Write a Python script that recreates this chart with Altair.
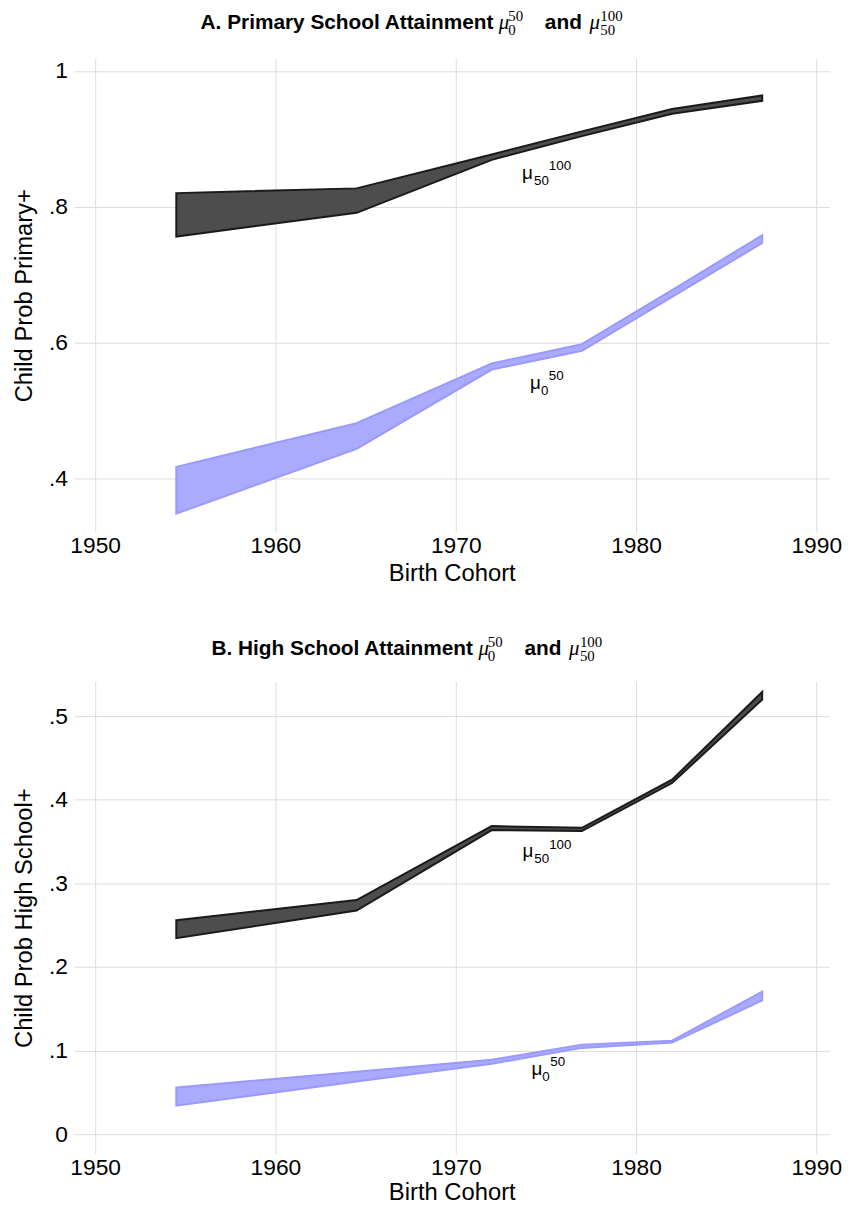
import altair as alt
import pandas as pd

# ---------------- data ----------------
years = [1954.5, 1964.5, 1972, 1977, 1982, 1987]

# Panel A: Primary school
a_black_upper = [0.820, 0.827, 0.877, 0.911, 0.944, 0.964]
a_black_lower = [0.756, 0.791, 0.869, 0.904, 0.937, 0.956]
a_blue_upper = [0.4166, 0.481, 0.569, 0.5975, 0.677, 0.758]
a_blue_lower = [0.3476, 0.443, 0.560, 0.5877, 0.667, 0.7465]

# Panel B: High school
b_black_upper = [0.256, 0.280, 0.3685, 0.3665, 0.424, 0.529]
b_black_lower = [0.2345, 0.2675, 0.3638, 0.3626, 0.420, 0.520]
b_blue_upper = [0.0557, 0.0747, 0.089, 0.1071, 0.1119, 0.1704]
b_blue_lower = [0.034, 0.063, 0.0842, 0.1032, 0.1095, 0.160]

# label anchor points (year, value)
a_black_label = (1973.68, 0.841)
a_blue_label = (1974.12, 0.531)
b_black_label = (1973.7, 0.331)
b_blue_label = (1974.2, 0.071)

x_ticks = [1950, 1960, 1970, 1980, 1990]
a_y_ticks = [0.4, 0.6, 0.8, 1.0]
b_y_ticks = [0.0, 0.1, 0.2, 0.3, 0.4, 0.5]

title_prefixes = ["A. Primary School Attainment", "B. High School Attainment"]
y_titles = ["Child Prob Primary+", "Child Prob High School+"]

# ---------------- styling ----------------
FONT = "Liberation Sans"
MATH = "Liberation Serif"
BLACK_FILL = "#4d4d4d"
BLACK_LINE = "#1a1a1a"
BLUE_FILL = "#aaaaff"
BLUE_LINE = "#9999ff"
GRID = "#dcdcdc"

X_DOMAIN = [1948.846, 1990.714]
W = 762

LABEL_EXPR = ("datum.value >= 1 ? '1' : (datum.value == 0 ? '0' : "
              "substring(format(datum.value, '.1f'), 1))")

ONE = pd.DataFrame({"k": [0]})


def band(upper, lower):
    return pd.DataFrame({"year": years, "upper": upper, "lower": lower})


def title_marks(prefix, right_edge, baseline):
    """Panel title built from text pieces: bold sans text + math symbols."""
    def txt(s, x, y, size, font, weight="normal", style="normal", align="left"):
        return alt.Chart(ONE).mark_text(
            text=s, font=font, fontSize=size, fontWeight=weight, fontStyle=style,
            align=align, baseline="alphabetic", color="black",
        ).encode(x=alt.value(x), y=alt.value(y))

    E = right_edge
    b = baseline
    return [
        txt(prefix, E, b, 21, FONT, weight="bold", align="right"),
        txt("μ", E + 5.5, b, 21, MATH, style="italic"),
        txt("0", E + 15, b + 6, 15, MATH),
        txt("50", E + 15, b - 8, 15, MATH),
        txt("and", E + 52, b, 21, FONT, weight="bold"),
        txt("μ", E + 97, b, 21, MATH, style="italic"),
        txt("50", E + 108, b + 6, 15, MATH),
        txt("100", E + 108, b - 8, 15, MATH),
    ]


def panel(prefix, title_edge, title_base, ytitle, ydomain, yticks,
          black_u, black_l, blue_u, blue_l, black_lab, blue_lab,
          height, xtitle_pad):
    x_scale = alt.Scale(domain=X_DOMAIN, nice=False, zero=False)
    x_enc = alt.X(
        "year:Q", scale=x_scale,
        axis=alt.Axis(values=x_ticks, format="d", title="Birth Cohort",
                      ticks=False, domain=False, labelPadding=3,
                      titlePadding=xtitle_pad, grid=True),
    )
    y_scale = alt.Scale(domain=ydomain, nice=False, zero=False)
    y_enc = alt.Y(
        "upper:Q", scale=y_scale,
        axis=alt.Axis(values=yticks, labelExpr=LABEL_EXPR, title=ytitle,
                      ticks=False, domain=False, labelPadding=7,
                      titlePadding=12, grid=True),
    )

    blue = alt.Chart(band(blue_u, blue_l)).mark_area(
        fill=BLUE_FILL, stroke=BLUE_LINE, strokeWidth=2, strokeJoin="miter"
    ).encode(x=x_enc, y=y_enc, y2="lower:Q")

    black = alt.Chart(band(black_u, black_l)).mark_area(
        fill=BLACK_FILL, stroke=BLACK_LINE, strokeWidth=2, strokeJoin="miter"
    ).encode(x=x_enc, y=y_enc, y2="lower:Q")

    layers = [blue, black]

    def label(pt, sub, sup, sub_dx, sup_dx):
        df = pd.DataFrame({"year": [pt[0]], "upper": [pt[1]]})
        base = alt.Chart(df)
        enc = dict(x=alt.X("year:Q", scale=x_scale),
                   y=alt.Y("upper:Q", scale=y_scale))
        mu = base.mark_text(text="μ", font=FONT, fontSize=19, align="left",
                            baseline="alphabetic", color="black").encode(**enc)
        s1 = base.mark_text(text=sub, font=FONT, fontSize=13.5, align="left",
                            baseline="alphabetic", dx=sub_dx, dy=6,
                            color="black").encode(**enc)
        s2 = base.mark_text(text=sup, font=FONT, fontSize=13.5, align="left",
                            baseline="alphabetic", dx=sup_dx, dy=-9,
                            color="black").encode(**enc)
        return [mu, s1, s2]

    layers += label(black_lab, "50", "100", 12, 27)
    layers += label(blue_lab, "0", "50", 11, 19)
    layers += title_marks(prefix, title_edge, title_base)

    return alt.layer(*layers).properties(width=W, height=height)


pA = panel(title_prefixes[0], 423, -30, y_titles[0], [0.3207, 1.0185], a_y_ticks,
           a_black_upper, a_black_lower, a_blue_upper, a_blue_lower,
           a_black_label, a_blue_label, 478, 4)
pB = panel(title_prefixes[1], 402.4, -27, y_titles[1], [-0.0237, 0.5415], b_y_ticks,
           b_black_upper, b_black_lower, b_blue_upper, b_blue_lower,
           b_black_label, b_blue_label, 477, 1)

chart = alt.vconcat(pA, pB, spacing=50).properties(
    padding={"left": 4, "top": -4.8, "right": 4, "bottom": -4},
    background="white",
).configure_view(stroke=None).configure_axis(
    gridColor=GRID, gridWidth=1,
    labelFont=FONT, labelFontSize=23, labelColor="black",
    titleFont=FONT, titleFontSize=24, titleFontWeight="normal", titleColor="black",
)

chart.save("out.html", embed_options={"renderer": "svg", "actions": False})
